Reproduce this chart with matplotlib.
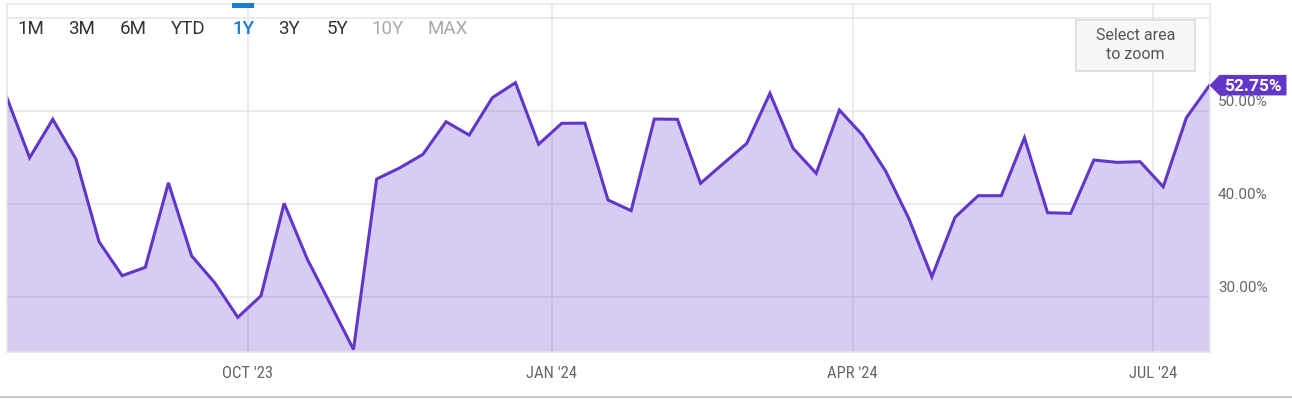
"""
1Y weekly percentage chart (area + line) with range selector header.
"""
import matplotlib
matplotlib.use("Agg")
import matplotlib.pyplot as plt
import matplotlib.dates as mdates
import pandas as pd
from matplotlib import font_manager
from matplotlib.lines import Line2D
from matplotlib.patches import Polygon, Rectangle
from matplotlib.transforms import Affine2D

dates = pd.date_range("2023-07-20", periods=53, freq="7D")
values = [
    51.54, 44.99, 49.11, 44.85, 35.97, 32.32, 33.22, 42.30, 34.46, 31.57,
    27.85, 30.17, 40.09, 34.11, 29.28, 24.40, 42.70, 43.90, 45.35, 48.85,
    47.42, 51.43, 53.04, 46.43, 48.68, 48.70, 40.45, 39.30, 49.14, 49.11,
    42.24, 44.39, 46.53, 51.90, 46.00, 43.31, 50.11, 47.42, 43.56, 38.48,
    32.21, 38.59, 40.91, 40.91, 47.13, 39.08, 39.02, 44.74, 44.49, 44.56,
    41.87, 49.28, 52.75,
]
last_label = "52.75%"

y_ticks = [30, 40, 50]
y_grid = [30, 40, 50, 60]
x_ticks = pd.to_datetime(["2023-10-01", "2024-01-01", "2024-04-01", "2024-07-01"])
x_labels = ["OCT '23", "JAN '24", "APR '24", "JUL '24"]

buttons = ["1M", "3M", "6M", "YTD", "1Y", "3Y", "5Y", "10Y", "MAX"]
button_x = [31, 82, 133, 188, 243, 289, 337, 388, 448]
button_colors = ["#333333"] * 4 + ["#1a7bd6"] + ["#333333"] * 2 + ["#aaaaaa"] * 2

LINE = "#6236c8"
GRID = "#e6e6e6"
W, H = 1292, 399

names = {f.name for f in font_manager.fontManager.ttflist}
cond_font = "Roboto"
for cand in ["Roboto Condensed", "Liberation Sans Narrow"]:
    if cand in names:
        cond_font = cand
        break
plt.rcParams["font.family"] = ["Roboto", "DejaVu Sans"]


def px(x, y):
    return x / W, 1 - y / H


def main():
    fig = plt.figure(figsize=(W / 100, H / 100), dpi=100)
    left, top = px(6.5, 4)
    right, bottom = px(1209.5, 352)
    ax = fig.add_axes([left, bottom, right - left, top - bottom])

    ax.fill_between(dates, values, 0, color=LINE, alpha=0.25, linewidth=0)
    ax.plot(dates, values, color=LINE, linewidth=2.2, solid_joinstyle="miter")

    ax.set_xlim(dates[0], dates[-1])
    ax.set_ylim(24.13, 61.49)

    ax.set_yticks(y_grid)
    ax.set_xticks(x_ticks)
    ax.set_xticklabels(x_labels, fontsize=12, color="#666666", family=cond_font)
    ax.tick_params(axis="x", length=0, pad=10)
    ax.tick_params(axis="y", length=0, labelleft=False, labelright=False)
    ax.grid(True, color=GRID, linewidth=1.1)
    ax.set_axisbelow(True)
    for spine in ax.spines.values():
        spine.set_color(GRID)
        spine.set_linewidth(1.1)

    for v in y_ticks:
        ax.annotate(
            "{:.2f}%".format(v),
            xy=(1, v),
            xycoords=("axes fraction", "data"),
            xytext=(8.5, 9),
            textcoords="offset pixels",
            ha="left",
            va="center",
            fontsize=11,
            color="#666666",
            annotation_clip=False,
        )

    # range selector
    for label, bx, c in zip(buttons, button_x, button_colors):
        fig.text(*px(bx, 29.5), label, ha="center", va="center", fontsize=13.5,
                 color=c, fontweight="medium" if label == "1Y" else "normal")
    bl, bt = px(232, 3)
    br, bb = px(254, 7.5)
    fig.add_artist(Rectangle((bl, bb), br - bl, bt - bb, transform=fig.transFigure,
                             facecolor="#1a7bd6", edgecolor="none", zorder=5))

    # zoom hint box
    zl, zt = px(1076, 20)
    zr, zb = px(1195, 70.5)
    fig.add_artist(Rectangle((zl, zb), zr - zl, zt - zb, transform=fig.transFigure,
                             facecolor="#f7f7f7", edgecolor="#dcdcdc", linewidth=1.2, zorder=5))
    fig.text(*px(1135.5, 35), "Select area", ha="center", va="center", fontsize=11.5,
             color="#555555", zorder=6)
    fig.text(*px(1135.5, 54.5), "to zoom", ha="center", va="center", fontsize=11.5,
             color="#555555", zorder=6)

    # last value flag
    ax_px, ay_px = ax.transData.transform((mdates.date2num(dates[-1]), values[-1]))
    shift = Affine2D().translate(ax_px, ay_px)
    flag = Polygon([(0, 0), (10, 10.5), (77, 10.5), (77, -10), (10, -10)], closed=True,
                   transform=shift, facecolor=LINE, edgecolor="none", zorder=10)
    fig.add_artist(flag)
    fig.text(43.5, -1.5, last_label, transform=shift, ha="center", va="center",
             fontsize=12.5, fontweight="bold", color="white", zorder=11)

    # bottom border of the widget
    fig.add_artist(Line2D([0, 1], [1 - 397 / H] * 2, transform=fig.transFigure,
                          color="#cccccc", linewidth=1.5))

    fig.savefig("out.png", dpi=100, facecolor="white")
    plt.close(fig)


if __name__ == "__main__":
    main()
